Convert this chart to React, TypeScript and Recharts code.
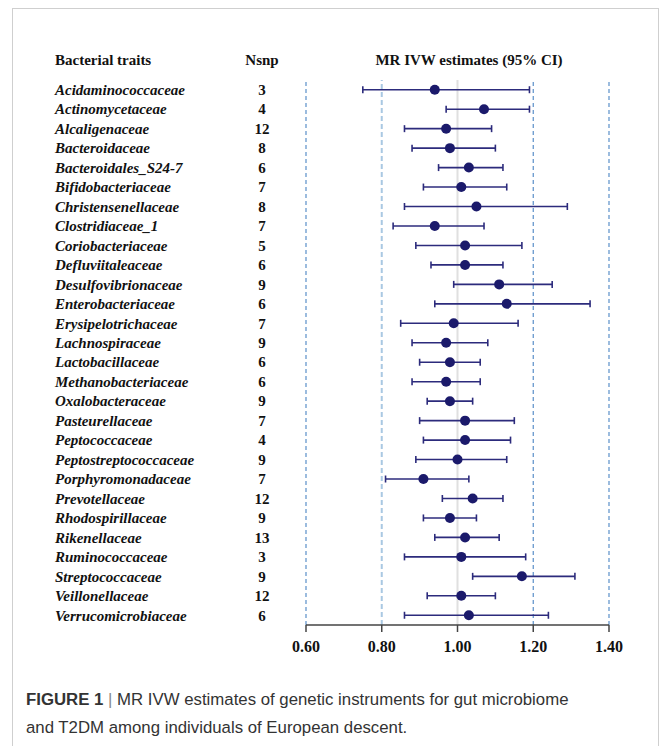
import React from 'react';
import { ScatterChart, Scatter, XAxis, YAxis, ErrorBar, ReferenceLine } from 'recharts';

const traits = [
  'Acidaminococcaceae', 'Actinomycetaceae', 'Alcaligenaceae', 'Bacteroidaceae', 'Bacteroidales_S24-7',
  'Bifidobacteriaceae', 'Christensenellaceae', 'Clostridiaceae_1', 'Coriobacteriaceae', 'Defluviitaleaceae',
  'Desulfovibrionaceae', 'Enterobacteriaceae', 'Erysipelotrichaceae', 'Lachnospiraceae', 'Lactobacillaceae',
  'Methanobacteriaceae', 'Oxalobacteraceae', 'Pasteurellaceae', 'Peptococcaceae', 'Peptostreptococcaceae',
  'Porphyromonadaceae', 'Prevotellaceae', 'Rhodospirillaceae', 'Rikenellaceae', 'Ruminococcaceae',
  'Streptococcaceae', 'Veillonellaceae', 'Verrucomicrobiaceae',
];
const nsnp = [3, 4, 12, 8, 6, 7, 8, 7, 5, 6, 9, 6, 7, 9, 6, 6, 9, 7, 4, 9, 7, 12, 9, 13, 3, 9, 12, 6];
const estimate = [0.94, 1.07, 0.97, 0.98, 1.03, 1.01, 1.05, 0.94, 1.02, 1.02, 1.11, 1.13, 0.99, 0.97, 0.98,
  0.97, 0.98, 1.02, 1.02, 1.0, 0.91, 1.04, 0.98, 1.02, 1.01, 1.17, 1.01, 1.03];
const ciLow = [0.75, 0.97, 0.86, 0.88, 0.95, 0.91, 0.86, 0.83, 0.89, 0.93, 0.99, 0.94, 0.85, 0.88, 0.9,
  0.88, 0.92, 0.9, 0.91, 0.89, 0.81, 0.96, 0.91, 0.94, 0.86, 1.04, 0.92, 0.86];
const ciHigh = [1.19, 1.19, 1.09, 1.1, 1.12, 1.13, 1.29, 1.07, 1.17, 1.12, 1.25, 1.35, 1.16, 1.08, 1.06,
  1.06, 1.04, 1.15, 1.14, 1.13, 1.03, 1.12, 1.05, 1.11, 1.18, 1.31, 1.1, 1.24];
const xTicks = [0.6, 0.8, 1.0, 1.2, 1.4];

const data = traits.map((name, i) => ({
  name,
  y: i,
  x: estimate[i],
  err: [estimate[i] - ciLow[i], ciHigh[i] - estimate[i]],
}));

const serif = '"Liberation Serif", "Times New Roman", serif';

const TraitTick = (props: any) => {
  const { y, payload } = props;
  const i = payload.value;
  return (
    <g>
      <text x={55} y={y} dy="0.35em" fontFamily={serif} fontSize={15} fontWeight="bold" fontStyle="italic" fill="#111">
        {traits[i]}
      </text>
      <text x={262} y={y} dy="0.35em" textAnchor="middle" fontFamily={serif} fontSize={15} fontWeight="bold" fill="#111">
        {nsnp[i]}
      </text>
    </g>
  );
};

const Dot = (props: any) => <circle cx={props.cx} cy={props.cy} r={5} fill="#1b1a6b" />;

export default function App() {
  const head: React.CSSProperties = {
    position: 'absolute', top: 52, fontFamily: serif, fontWeight: 'bold', fontSize: 15, color: '#111', whiteSpace: 'nowrap',
  };
  return (
    <div style={{ position: 'relative', width: 662, height: 746, overflow: 'hidden', background: '#fff' }}>
      <style>{'body{margin:0}'}</style>
      <div style={{ position: 'absolute', left: 12, top: 8, width: 647, height: 760, border: '1.5px solid #cfcfcf', boxSizing: 'border-box' }} />
      <div style={{ ...head, left: 55 }}>Bacterial traits</div>
      <div style={{ ...head, left: 262, transform: 'translateX(-50%)' }}>Nsnp</div>
      <div style={{ ...head, left: 469, transform: 'translateX(-50%)' }}>MR IVW estimates (95% CI)</div>
      <div style={{ position: 'absolute', left: 0, top: 0 }}>
        <ScatterChart width={650} height={690} margin={{ top: 80, right: 41, bottom: 25, left: 0 }}>
          <XAxis
            type="number"
            dataKey="x"
            domain={[0.6, 1.4]}
            ticks={xTicks}
            allowDataOverflow
            height={40}
            stroke="#444"
            strokeWidth={1.5}
            tickSize={7}
            tickMargin={9}
            tickFormatter={(v: number) => v.toFixed(2)}
            tick={{ fontFamily: serif, fontSize: 16, fontWeight: 'bold', fill: '#111' }}
          />
          <YAxis
            type="number"
            dataKey="y"
            domain={[-0.5, 27.5]}
            reversed
            allowDataOverflow
            ticks={traits.map((_, i) => i)}
            interval={0}
            width={306}
            axisLine={false}
            tickLine={false}
            tick={<TraitTick />}
          />
          <ReferenceLine x={0.6} stroke="#5a8fc8" strokeWidth={1.2} strokeDasharray="4 3" />
          <ReferenceLine x={0.8} stroke="#a9c8e2" strokeWidth={2} strokeDasharray="5 3" />
          <ReferenceLine x={1.0} stroke="#e0e0e0" strokeWidth={2} />
          <ReferenceLine x={1.2} stroke="#5a8fc8" strokeWidth={1.2} strokeDasharray="4 3" />
          <ReferenceLine x={1.4} stroke="#5a8fc8" strokeWidth={1.2} strokeDasharray="4 3" />
          <Scatter data={data} shape={<Dot />} isAnimationActive={false}>
            <ErrorBar dataKey="err" direction="x" width={3.5} stroke="#2c2b7c" strokeWidth={1.6} />
          </Scatter>
        </ScatterChart>
      </div>
      <div style={{ position: 'absolute', left: 26, top: 686, fontFamily: '"Liberation Sans", Arial, sans-serif', fontSize: 16.8, lineHeight: '28px', color: '#333', whiteSpace: 'nowrap' }}>
        <b>FIGURE 1</b> <span style={{ color: '#888' }}>|</span> MR IVW estimates of genetic instruments for gut microbiome
        <br />
        and T2DM among individuals of European descent.
      </div>
    </div>
  );
}
